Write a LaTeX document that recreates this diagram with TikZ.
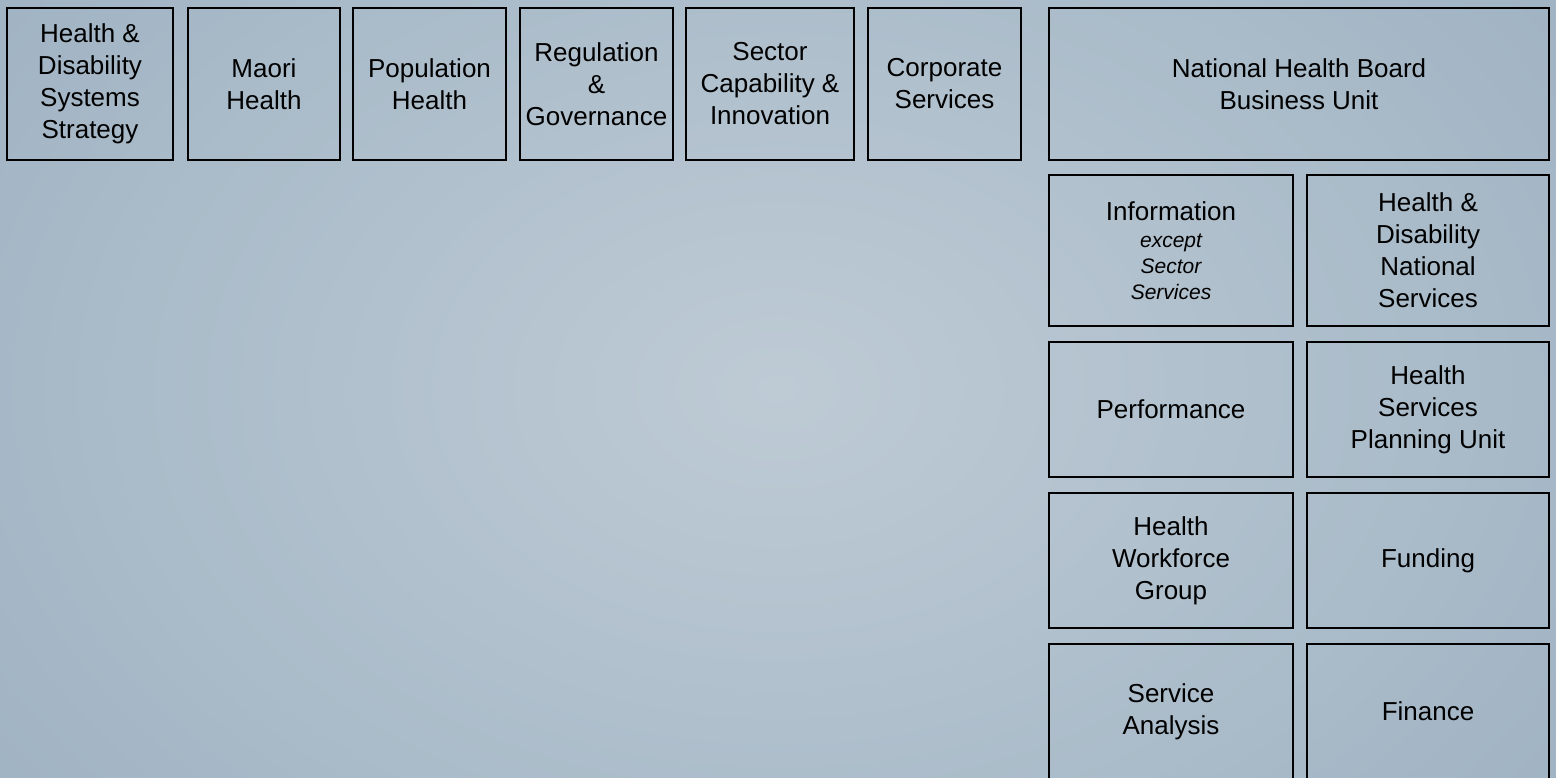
\documentclass[tikz,border=0pt]{standalone}
\usepackage{fontspec}
\setmainfont{Liberation Sans}
\definecolor{fernlight}{RGB}{190,203,213}
\definecolor{ferndark}{RGB}{160,179,195}
\newcommand{\exceptnote}[1]{\fontsize{10.5}{12.8}\selectfont\itshape #1}
\begin{document}
\begin{tikzpicture}[x=0.5pt, y=-0.5pt,
    dept/.style={draw, line width=1.1pt, align=center, inner sep=0pt,
      font={\fontsize{13}{16}\selectfont}}]
      % background
      \useasboundingbox (0,0) rectangle (1556,777);
      \clip (0,0) rectangle (1556,777);
      \shade[inner color=fernlight, outer color=ferndark] (-200,-300) rectangle (1756,1077);
      % ministry groups
      \draw
        (90,84) node[dept, minimum width=83pt, minimum height=76pt] (hdss){Health \&\\Disability\\Systems\\Strategy}
        (264,84) node[dept, minimum width=76pt, minimum height=76pt] (maori){Maori\\Health}
        (429.5,84) node[dept, minimum width=76.5pt, minimum height=76pt] (pop){Population\\Health}
        (596.5,84) node[dept, minimum width=76.5pt, minimum height=76pt] (reg){Regulation\\\&\\Governance}
        (770,84) node[dept, minimum width=84pt, minimum height=76pt] (sci){Sector\\Capability \&\\Innovation}
        (944.5,84) node[dept, minimum width=76.5pt, minimum height=76pt] (corp){Corporate\\Services};
      % national health board
      \draw
        (1299,84) node[dept, minimum width=250pt, minimum height=76pt] (nhb){National Health Board\\Business Unit}
        (1171,250.5) node[dept, minimum width=122pt, minimum height=75.5pt] (info){Information\\[-2.5pt]\exceptnote{except}\\[-3pt]\exceptnote{Sector}\\[-3pt]\exceptnote{Services}}
        (1428,250.5) node[dept, minimum width=121pt, minimum height=75.5pt] (hdns){Health \&\\Disability\\National\\Services}
        (1171,409.5) node[dept, minimum width=122pt, minimum height=67.5pt] (perf){Performance}
        (1428,409.5) node[dept, minimum width=121pt, minimum height=67.5pt] (hspu){Health\\Services\\Planning Unit}
        (1171,560.5) node[dept, minimum width=122pt, minimum height=67.5pt] (hwg){Health\\Workforce\\Group}
        (1428,560.5) node[dept, minimum width=121pt, minimum height=67.5pt] (fund){Funding}
        (1171,711.5) node[dept, minimum width=122pt, minimum height=67.5pt] (sa){Service\\Analysis}
        (1428,711.5) node[dept, minimum width=121pt, minimum height=67.5pt] (fin){Finance};
    \end{tikzpicture}
\end{document}
